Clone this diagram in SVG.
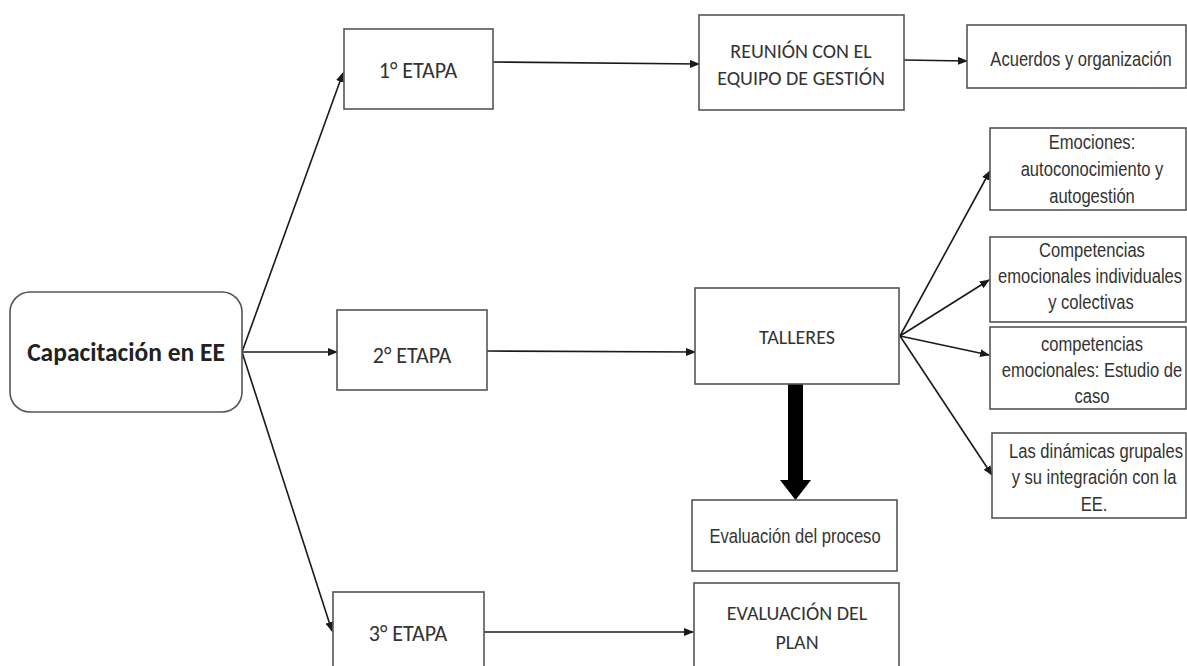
<svg xmlns="http://www.w3.org/2000/svg" width="1187" height="666" viewBox="0 0 1187 666">
<defs>
<marker id="ah" markerUnits="userSpaceOnUse" markerWidth="10" markerHeight="8" refX="9" refY="4" orient="auto">
<path d="M0,0 L10,4 L0,8 Z" fill="#1a1a1a"/>
</marker>
<style>
.box{fill:#fff;stroke:#555;stroke-width:1.6}
.c{font-family:Carlito,Lato,"Open Sans",sans-serif;fill:#333;text-anchor:middle;dominant-baseline:central}
.n{font-family:"Liberation Sans Narrow","Liberation Sans",sans-serif;fill:#333;text-anchor:middle;dominant-baseline:central;font-size:19.5px}
.ln{fill:none;stroke:#1a1a1a;stroke-width:1.6;marker-end:url(#ah)}
</style>
</defs>
<rect width="1187" height="666" fill="#fff"/>
<g id="connectors">
<line class="ln" x1="242" y1="352" x2="343" y2="73"/>
<line class="ln" x1="242" y1="352" x2="337" y2="352"/>
<line class="ln" x1="242" y1="352" x2="332" y2="631"/>
<line class="ln" x1="493" y1="62" x2="699" y2="64"/>
<line class="ln" x1="904" y1="60" x2="967" y2="61"/>
<line class="ln" x1="487" y1="351" x2="695" y2="352"/>
<line class="ln" x1="900" y1="336" x2="990" y2="171"/>
<line class="ln" x1="900" y1="336" x2="989" y2="280"/>
<line class="ln" x1="900" y1="336" x2="989" y2="355"/>
<line class="ln" x1="900" y1="336" x2="992" y2="475"/>
<line class="ln" x1="484" y1="632" x2="693" y2="632"/>
<path d="M788,384 H803 V480 H811 L795.5,500 L780,480 H788 Z" fill="#000"/>
</g>
<g id="main">
<rect class="box" x="10" y="292" width="232" height="120" rx="20"/>
<text class="c" x="126" y="352" font-size="25.5" font-weight="bold" style="fill:#222">Capacitación en EE</text>
</g>
<g id="etapa1">
<rect class="box" x="344" y="29" width="149" height="80"/>
<text class="c" x="418" y="70" font-size="22">1° ETAPA</text>
</g>
<g id="etapa2">
<rect class="box" x="337" y="310" width="150" height="80"/>
<text class="c" x="412" y="355" font-size="22">2° ETAPA</text>
</g>
<g id="etapa3">
<rect class="box" x="333" y="592" width="151" height="90"/>
<text class="c" x="408" y="633" font-size="22">3° ETAPA</text>
</g>
<g id="reunion">
<rect class="box" x="699" y="15" width="205" height="95"/>
<text class="c" x="801" y="51" font-size="20">REUNIÓN CON EL</text>
<text class="c" x="801" y="78" font-size="20">EQUIPO DE GESTIÓN</text>
</g>
<g id="acuerdos">
<rect class="box" x="967" y="25" width="219" height="63"/>
<text class="n" transform="scale(0.85,1)" x="1271.8" y="60">Acuerdos y organización</text>
</g>
<g id="talleres">
<rect class="box" x="695" y="288" width="204" height="96"/>
<text class="c" x="797" y="337" font-size="20">TALLERES</text>
</g>
<g id="emociones">
<rect class="box" x="990" y="128" width="196" height="82"/>
<text class="n" transform="scale(0.85,1)" x="1284.7" y="143">Emociones:</text>
<text class="n" transform="scale(0.85,1)" x="1284.7" y="170">autoconocimiento y</text>
<text class="n" transform="scale(0.85,1)" x="1284.7" y="197">autogestión</text>
</g>
<g id="competencias">
<rect class="box" x="990" y="237" width="196" height="85"/>
<text class="n" transform="scale(0.85,1)" x="1284.7" y="251">Competencias</text>
<text class="n" transform="scale(0.85,1)" x="1282.4" y="277">emocionales individuales</text>
<text class="n" transform="scale(0.85,1)" x="1283.5" y="303">y colectivas</text>
</g>
<g id="estudio">
<rect class="box" x="990" y="327" width="196" height="82"/>
<text class="n" transform="scale(0.85,1)" x="1284.7" y="345">competencias</text>
<text class="n" transform="scale(0.85,1)" x="1284.7" y="371">emocionales: Estudio de</text>
<text class="n" transform="scale(0.85,1)" x="1284.7" y="397">caso</text>
</g>
<g id="dinamicas">
<rect class="box" x="992" y="433" width="194" height="85"/>
<text class="n" transform="scale(0.85,1)" x="1289.4" y="452">Las dinámicas grupales</text>
<text class="n" transform="scale(0.85,1)" x="1287.1" y="478">y su integración con la</text>
<text class="n" transform="scale(0.85,1)" x="1287.1" y="505">EE.</text>
</g>
<g id="evaluacion-proceso">
<rect class="box" x="692" y="500" width="205" height="71"/>
<text class="n" transform="scale(0.85,1)" x="935.3" y="537">Evaluación del proceso</text>
</g>
<g id="evaluacion-plan">
<rect class="box" x="694" y="583" width="205" height="100"/>
<text class="c" x="797" y="613" font-size="20">EVALUACIÓN DEL</text>
<text class="c" x="797" y="642" font-size="20">PLAN</text>
</g>
</svg>
